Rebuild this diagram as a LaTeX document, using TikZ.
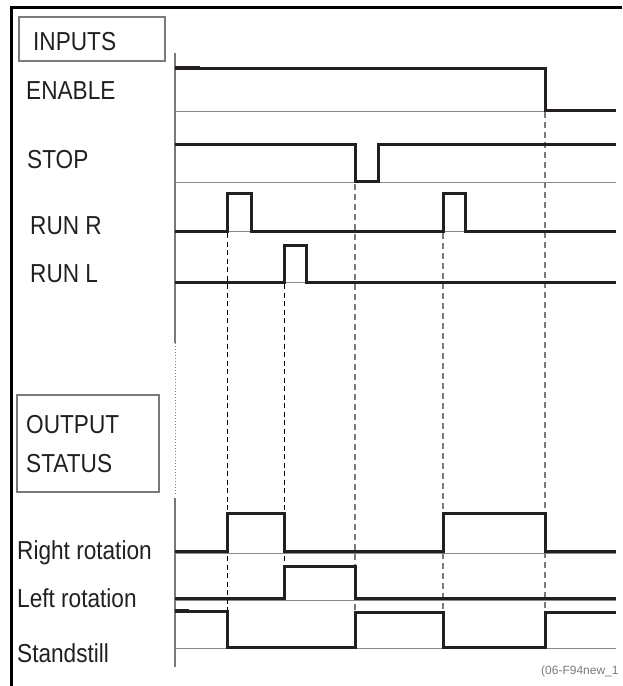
\documentclass[tikz,border=0pt]{standalone}
\usepackage{fontspec}
\setmainfont{Liberation Sans}[FakeStretch=0.87]
\newfontfamily\footfont{Liberation Sans}
\definecolor{sig}{HTML}{231F20}
\definecolor{base}{HTML}{8A8A8A}
\definecolor{dgray}{HTML}{7A7A7A}
\begin{document}
\begin{tikzpicture}[x=1pt,y=-1pt,
  signal/.style={line width=3pt,draw=sig,line join=miter},
  baseline/.style={line width=0.9pt,draw=base},
  markblack/.style={line width=0.8pt,draw=black,dash pattern=on 5pt off 3.5pt},
  markgray/.style={line width=1.3pt,draw=dgray,dash pattern=on 6pt off 4pt},
  label/.style={anchor=base west,inner sep=0pt,font=\fontsize{26}{30}\selectfont,text=sig},
  titlebox/.style={draw=dgray,line width=1.2pt},
  foot/.style={anchor=base west,inner sep=0pt,font=\footfont\fontsize{12}{14}\selectfont,text=dgray}]
\useasboundingbox (0,0) rectangle (622,686);
\clip (0,0) rectangle (622,686);
% frame
\draw[line width=3pt,draw=black] (11,686) -- (11,7) -- (622,7);
% title boxes
\draw[titlebox] (19,17) rectangle (165,61);
\draw[titlebox] (17,395) rectangle (159,492);
% axis
\draw[line width=1.2pt,draw=dgray] (175,53) -- (175,343);
\draw[line width=0.8pt,draw=dgray,dash pattern=on 1pt off 2pt] (175,343) -- (175,496);
\draw[line width=1.2pt,draw=dgray] (175,498) -- (175,667);
% baselines
\foreach \y in {111,182,231.5,282,553,600,648}
  \draw[baseline] (175,\y) -- (616,\y);
% marker lines
\draw[markblack] (227,233) -- (227,611);
\draw[markblack] (284,284) -- (284,566);
\draw[markgray] (355,184) -- (355,612);
\draw[markgray] (443,233) -- (443,612);
\draw[markgray] (545,112) -- (545,612);
% input signals
\draw[signal] (175,68) -- (545,68) -- (545,110) -- (616,110);
\draw[line width=3.8pt,draw=sig] (175,68) -- (200,68);
\draw[signal] (175,144) -- (355,144) -- (355,181) -- (378,181) -- (378,144) -- (616,144);
\draw[signal] (175,231) -- (227,231) -- (227,193) -- (251,193) -- (251,231) -- (443,231) -- (443,193) -- (465,193) -- (465,231) -- (616,231);
\draw[signal] (175,282) -- (284,282) -- (284,245) -- (306,245) -- (306,282) -- (616,282);
% output signals
\draw[signal] (175,551) -- (227,551) -- (227,513) -- (284,513) -- (284,551) -- (443,551) -- (443,513) -- (545,513) -- (545,551) -- (616,551);
\draw[signal] (175,598) -- (284,598) -- (284,566) -- (355,566) -- (355,598) -- (616,598);
\draw[signal] (175,611) -- (227,611) -- (227,647) -- (355,647) -- (355,612) -- (443,612) -- (443,647) -- (545,647) -- (545,612) -- (616,612);
\draw[line width=3.8pt,draw=sig] (175,611) -- (189,611);
% labels
\node[label] (inputs) at (33,50) {INPUTS};
\node[label] (enable) at (26,99) {ENABLE};
\node[label] (stop) at (27,168) {STOP};
\node[label] (runr) at (30,234) {RUN R};
\node[label] (runl) at (30,282) {RUN L};
\node[label] (output) at (26,433) {OUTPUT};
\node[label] (status) at (26,472) {STATUS};
\node[label] (rightrot) at (17,559) {Right rotation};
\node[label] (leftrot) at (17,607) {Left rotation};
\node[label] (standstill) at (17,662) {Standstill};
\node[foot] (fig) at (541,674) {(06-F94new\_1};
\end{tikzpicture}
\end{document}
